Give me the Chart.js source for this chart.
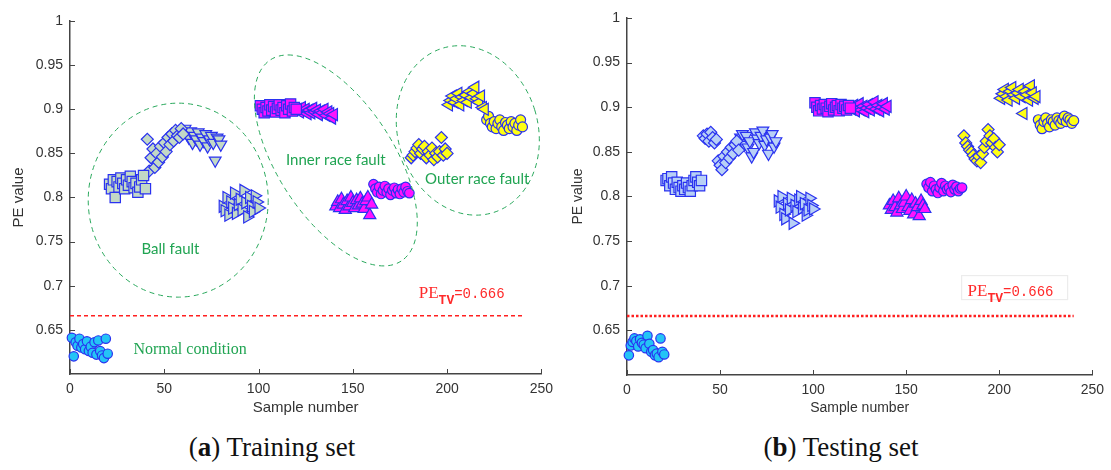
<!DOCTYPE html>
<html>
<head>
<meta charset="utf-8">
<script src="https://cdn.jsdelivr.net/npm/chart.js@4.4.0/dist/chart.umd.min.js"></script>
<style>
  body { margin: 0; background: #fff; width: 1111px; height: 470px; position: relative; overflow: hidden; }
  .panel { position: absolute; top: 0; height: 425px; }
  .cap { position: absolute; top: 432px; font-family: "Liberation Serif", serif; font-size: 27px; line-height: 30px;
         color: #111; transform: translateX(-50%); white-space: nowrap; }
</style>
</head>
<body>
<div class="panel" style="left:0;width:560px"><canvas id="train-chart"></canvas></div>
<div class="panel" style="left:560px;width:551px"><canvas id="test-chart"></canvas></div>
<div class="cap" style="left:272px">(<b>a</b>) Training set</div>
<div class="cap" style="left:841px">(<b>b</b>) Testing set</div>
<script>
// first sample number of each group of 20
const sampleStart = [1, 21, 41, 61, 81, 101, 121, 141, 161, 181, 201, 221];
const xTicks = [0, 50, 100, 150, 200, 250];
const yTicks = [0.65, 0.7, 0.75, 0.8, 0.85, 0.9, 0.95, 1];
const threshold = 0.666;
const thresholdSpan = [0, 240];

// training set PE values
const trainNormal    = [0.641,0.620,0.636,0.632,0.640,0.630,0.634,0.628,0.637,0.626,0.631,0.624,0.636,0.622,0.638,0.626,0.621,0.618,0.640,0.623];
const trainBallSq    = [0.815,0.810,0.820,0.800,0.818,0.812,0.822,0.816,0.810,0.820,0.814,0.824,0.818,0.811,0.816,0.806,0.812,0.820,0.825,0.810];
const trainBallDia   = [0.866,0.830,0.845,0.855,0.834,0.850,0.840,0.858,0.846,0.862,0.852,0.868,0.860,0.872,0.864,0.876,0.870,0.868,0.878,0.872];
const trainBallDown  = [0.878,0.872,0.868,0.875,0.862,0.870,0.866,0.874,0.860,0.868,0.864,0.872,0.858,0.866,0.870,0.862,0.842,0.868,0.866,0.860];
const trainBallRight = [0.790,0.785,0.800,0.780,0.795,0.788,0.805,0.782,0.792,0.798,0.786,0.808,0.794,0.778,0.800,0.790,0.784,0.802,0.795,0.788];
const trainInnerSq   = [0.904,0.900,0.896,0.902,0.898,0.905,0.899,0.903,0.897,0.901,0.905,0.899,0.902,0.896,0.904,0.900,0.906,0.898,0.902,0.900];
const trainInnerLeft = [0.900,0.897,0.902,0.898,0.900,0.895,0.899,0.896,0.901,0.897,0.899,0.894,0.898,0.896,0.900,0.893,0.897,0.895,0.890,0.894];
const trainInnerUp   = [0.790,0.795,0.788,0.798,0.792,0.786,0.796,0.790,0.800,0.794,0.788,0.797,0.791,0.799,0.793,0.787,0.796,0.800,0.780,0.792];
const trainInnerCirc = [0.815,0.810,0.806,0.812,0.804,0.808,0.813,0.806,0.810,0.803,0.808,0.811,0.805,0.809,0.804,0.810,0.806,0.812,0.807,0.805];
const trainOuterDia  = [0.845,0.848,0.852,0.856,0.860,0.850,0.855,0.858,0.845,0.852,0.848,0.856,0.843,0.850,0.846,0.852,0.868,0.848,0.855,0.850];
const trainOuterLeft = [0.905,0.910,0.915,0.908,0.912,0.918,0.905,0.914,0.910,0.916,0.908,0.920,0.913,0.918,0.925,0.912,0.908,0.915,0.902,0.900];
const trainOuterCirc = [0.888,0.892,0.884,0.880,0.886,0.878,0.884,0.888,0.880,0.876,0.885,0.882,0.878,0.886,0.880,0.884,0.876,0.882,0.888,0.880];

// testing set PE values
const testNormal    = [0.622,0.633,0.637,0.641,0.638,0.632,0.640,0.636,0.634,0.630,0.644,0.635,0.626,0.628,0.622,0.624,0.620,0.641,0.626,0.623];
const testBallSq    = [0.818,0.820,0.812,0.822,0.815,0.808,0.816,0.810,0.806,0.812,0.808,0.815,0.810,0.806,0.812,0.818,0.822,0.816,0.812,0.818];
const testBallDia   = [0.868,0.865,0.870,0.862,0.872,0.866,0.860,0.864,0.840,0.835,0.830,0.845,0.838,0.850,0.843,0.855,0.848,0.858,0.862,0.852];
const testBallDown  = [0.866,0.870,0.858,0.868,0.855,0.862,0.845,0.850,0.872,0.865,0.860,0.868,0.874,0.858,0.864,0.848,0.866,0.870,0.856,0.862];
const testBallRight = [0.795,0.788,0.800,0.780,0.775,0.792,0.785,0.798,0.770,0.790,0.783,0.796,0.800,0.787,0.792,0.779,0.785,0.798,0.790,0.786];
const testInnerSq   = [0.905,0.900,0.896,0.902,0.898,0.903,0.899,0.895,0.901,0.904,0.897,0.900,0.902,0.896,0.903,0.899,0.901,0.897,0.902,0.899];
const testInnerLeft = [0.898,0.902,0.896,0.900,0.904,0.897,0.901,0.895,0.899,0.903,0.897,0.900,0.906,0.898,0.902,0.896,0.900,0.904,0.898,0.901];
const testInnerUp   = [0.790,0.785,0.795,0.788,0.782,0.798,0.790,0.786,0.793,0.800,0.788,0.784,0.796,0.780,0.792,0.788,0.778,0.795,0.790,0.786];
const testInnerCirc = [0.814,0.810,0.816,0.806,0.812,0.808,0.804,0.810,0.815,0.806,0.812,0.808,0.810,0.805,0.813,0.808,0.811,0.806,0.809,0.810];
const testOuterDia  = [0.868,0.860,0.856,0.852,0.850,0.846,0.842,0.840,0.845,0.838,0.848,0.855,0.862,0.875,0.868,0.860,0.865,0.855,0.850,0.858];
const testOuterLeft = [0.910,0.915,0.920,0.912,0.908,0.918,0.922,0.914,0.910,0.916,0.920,0.912,0.893,0.918,0.914,0.908,0.924,0.916,0.910,0.912];
const testOuterCirc = [0.886,0.880,0.876,0.884,0.888,0.882,0.878,0.886,0.884,0.880,0.888,0.885,0.882,0.886,0.890,0.884,0.888,0.886,0.882,0.885];

const trainGroups = [trainNormal, trainBallSq, trainBallDia, trainBallDown, trainBallRight, trainInnerSq,
                     trainInnerLeft, trainInnerUp, trainInnerCirc, trainOuterDia, trainOuterLeft, trainOuterCirc];
const testGroups = [testNormal, testBallSq, testBallDia, testBallDown, testBallRight, testInnerSq,
                    testInnerLeft, testInnerUp, testInnerCirc, testOuterDia, testOuterLeft, testOuterCirc];

// marker look of each group
const shape = ['circle','rect','rectRot','triangle','triangle','rect','triangle','triangle','circle','rectRot','triangle','circle'];
const turn  = [0, 0, 0, 180, 90, 0, -90, 0, 0, 0, -90, 0];
const size  = [4.7, 7.3, 6, 6.8, 7, 7.3, 7, 7, 4.8, 6, 7, 5];
const kind  = ['normal','ball','ball','ball','ball','inner','inner','inner','inner','outer','outer','outer'];

const edge = '#2a32f0';

function makeSets(groups, ballFill, lineDash, lineWidth){
  const fills = {normal: '#24c4f6', ball: ballFill, inner: '#ff12ff', outer: '#ffff14'};
  const sets = groups.map((vals, g) => ({
    data: vals.map((v, i) => ({x: sampleStart[g] + i, y: v})),
    pointStyle: shape[g],
    rotation: turn[g],
    pointRadius: size[g],
    pointBackgroundColor: fills[kind[g]],
    pointBorderColor: edge,
    pointBorderWidth: 1.2,
    showLine: false,
    clip: false
  }));
  sets.push({
    data: thresholdSpan.map(v => ({x: v, y: threshold})),
    showLine: true,
    borderColor: '#ff2020',
    borderWidth: lineWidth,
    borderDash: lineDash,
    pointRadius: 0,
    clip: false
  });
  return sets;
}

const inwardTicks = {
  id: 'inwardTicks',
  afterDraw(chart) {
    const {ctx, chartArea: a, scales: {x, y}} = chart;
    ctx.save();
    ctx.strokeStyle = '#444';
    ctx.lineWidth = 1;
    ctx.beginPath();
    x.ticks.forEach(t => {
      const px = Math.round(x.getPixelForValue(t.value)) + 0.5;
      ctx.moveTo(px, a.bottom); ctx.lineTo(px, a.bottom - 5);
    });
    y.ticks.forEach(t => {
      const py = Math.round(y.getPixelForValue(t.value)) + 0.5;
      ctx.moveTo(a.left, py); ctx.lineTo(a.left + 5, py);
    });
    ctx.stroke();
    ctx.restore();
  }
};

const decor = {
  id: 'decor',
  afterDatasetsDraw(chart, args, opts) {
    const {ctx, scales: {x, y}} = chart;
    ctx.save();
    (opts.ellipses || []).forEach(e => {
      ctx.beginPath();
      ctx.ellipse(x.getPixelForValue(e.x), y.getPixelForValue(e.y), e.rx, e.ry, e.rot, 0, Math.PI * 2);
      ctx.setLineDash([5, 4]);
      ctx.strokeStyle = '#29a85c';
      ctx.lineWidth = 1;
      ctx.stroke();
    });
    ctx.setLineDash([]);
    ctx.textAlign = 'center';
    ctx.textBaseline = 'middle';
    (opts.notes || []).forEach(n => {
      ctx.font = n.font;
      ctx.fillStyle = '#20a452';
      ctx.fillText(n.text, x.getPixelForValue(n.x), y.getPixelForValue(n.y));
    });

    // PE_TV label
    const lbl = opts.label;
    let px = x.getPixelForValue(lbl.x);
    const base = y.getPixelForValue(lbl.y);
    if(lbl.box){
      ctx.strokeStyle = '#ececec';
      ctx.strokeRect(px - 6, base - 20, 106, 24);
    }
    ctx.textAlign = 'left';
    ctx.textBaseline = 'alphabetic';
    ctx.fillStyle = '#ff2a2a';
    ctx.font = '17px "Liberation Serif"';
    ctx.fillText('PE', px, base);
    px += ctx.measureText('PE').width;
    ctx.font = 'bold 13px "Liberation Mono"';
    ctx.fillText('TV', px, base + 6);
    px += ctx.measureText('TV').width;
    ctx.font = '14px "Liberation Mono"';
    ctx.fillText('=' + threshold, px, base);
    ctx.restore();
  }
};

function makeScales(yWidth, xHeight, titleSize){
  const tickFont = {family: 'Liberation Sans', size: 14};
  return {
    x: {
      type: 'linear', min: 0, max: 250,
      afterBuildTicks: s => { s.ticks = xTicks.map(v => ({value: v})); },
      afterFit: s => { s.height = xHeight; },
      grid: {display: false, drawTicks: false},
      border: {color: '#444', width: 1.5},
      ticks: {padding: 7, color: '#333', font: tickFont, maxRotation: 0, callback: v => String(v)},
      title: {display: true, text: 'Sample number', color: '#333',
              font: {family: 'Liberation Sans', size: titleSize}, padding: {top: 0, bottom: 8}}
    },
    y: {
      type: 'linear', min: 0.6, max: 1,
      afterBuildTicks: s => { s.ticks = yTicks.map(v => ({value: v})); },
      afterFit: s => { s.width = yWidth; },
      grid: {display: false, drawTicks: false},
      border: {color: '#444', width: 1.5},
      ticks: {padding: 7, color: '#333', font: tickFont, callback: v => String(v)},
      title: {display: true, text: 'PE value', color: '#333',
              font: {family: 'Liberation Sans', size: titleSize}, padding: {top: 10, bottom: 0}}
    }
  };
}

function printChart(container, sets, scales, padding, decorOpts){
  const ctx = document.getElementById(container).getContext('2d');
  new Chart(ctx, {
    type: 'scatter',
    data: {datasets: sets},
    options: {
      responsive: true,
      maintainAspectRatio: false,
      animation: false,
      events: [],
      layout: {padding},
      scales,
      plugins: {legend: {display: false}, tooltip: {enabled: false}, decor: decorOpts}
    },
    plugins: [inwardTicks, decor]
  });
}

printChart('train-chart',
  makeSets(trainGroups, '#c3d9c6', [4, 3], 1.5),
  makeScales(70, 51, 15),
  {top: 21, right: 11, left: 0, bottom: 0},
  {
    ellipses: [
      {x: 57.4, y: 0.797, rx: 90, ry: 97, rot: 0},
      {x: 141, y: 0.842, rx: 120, ry: 58, rot: 0.995},
      {x: 211, y: 0.876, rx: 70, ry: 86, rot: -0.3}
    ],
    notes: [
      {text: 'Ball fault', x: 53.3, y: 0.741, font: '15px Lato'},
      {text: 'Inner race fault', x: 141, y: 0.842, font: '15px Lato'},
      {text: 'Outer race fault', x: 216, y: 0.8205, font: '15px Lato'},
      {text: 'Normal condition', x: 63.7, y: 0.6273, font: '16px "Liberation Serif"'}
    ],
    label: {x: 185, y: 0.686, box: false}
  });

printChart('test-chart',
  makeSets(testGroups, '#b8d0f6', [2.5, 2], 2.5),
  makeScales(67, 50, 14),
  {top: 18, right: 16, left: 0, bottom: 0},
  {
    ellipses: [],
    notes: [],
    label: {x: 183, y: 0.689, box: true}
  });
</script>
</body>
</html>
